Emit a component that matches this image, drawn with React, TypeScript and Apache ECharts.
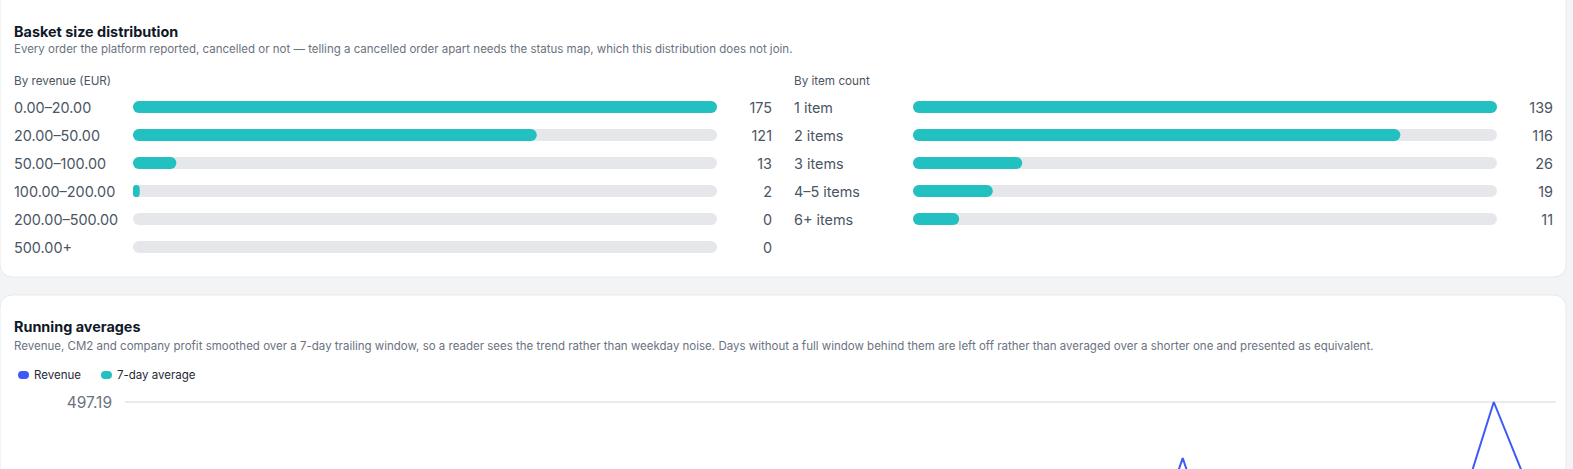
import { useEffect, useRef } from "react";
import * as echarts from "echarts";

const revenueBuckets = ["0.00–20.00", "20.00–50.00", "50.00–100.00", "100.00–200.00", "200.00–500.00", "500.00+"];
const revenueCounts = [175, 121, 13, 2, 0, 0];

const itemBuckets = ["1 item", "2 items", "3 items", "4–5 items", "6+ items"];
const itemCounts = [139, 116, 26, 19, 11];

const days = [
  "03-01", "03-02", "03-03", "03-04", "03-05", "03-06", "03-07", "03-08", "03-09", "03-10",
  "03-11", "03-12", "03-13", "03-14", "03-15", "03-16", "03-17", "03-18", "03-19", "03-20",
  "03-21", "03-22", "03-23", "03-24", "03-25", "03-26", "03-27", "03-28", "03-29", "03-30",
  "03-31", "04-01", "04-02", "04-03", "04-04", "04-05", "04-06", "04-07", "04-08", "04-09",
  "04-10", "04-11", "04-12", "04-13", "04-14", "04-15", "04-16",
];

const revenue = [
  142.5, 88.3, 196.7, 121.4, 64.9, 173.2, 110.8, 205.6, 97.1, 158.3,
  231.9, 76.4, 139.8, 184.2, 118.6, 92.7, 266.3, 147.5, 101.2, 173.9,
  128.4, 214.7, 85.6, 162.1, 243.8, 119.3, 98.5, 187.4, 152.6, 74.2,
  208.9, 136.1, 112.7, 190.6, 381.2, 189.4, 124.3, 168.5, 97.8, 221.6,
  143.2, 175.4, 108.9, 292.0, 497.19, 337.7, 214.3,
];

const avg7 = [
  null, null, null, null, null, null, 128.3, 137.2, 130.0, 138.2,
  150.4, 145.2, 145.6, 158.3, 143.6, 141.9, 149.3, 152.2, 137.9, 140.9,
  145.2, 153.1, 153.2, 147.5, 161.1, 155.4, 149.6, 159.3, 152.0, 148.2,
  153.9, 145.5, 142.0, 151.6, 179.5, 181.8, 187.8, 193.5, 194.7, 210.3,
  189.6, 171.6, 148.5, 173.9, 215.7, 253.8, 266.9,
];

const yTicks = [0, 497.19];

const FONT = "Inter, 'Noto Sans', sans-serif";
const TEAL = "#22c0c0";
const BLUE = "#3d5af8";
const TRACK = "#e5e7eb";
const LABEL = "#4b5563";

// the page continues below the window, so the chart is drawn taller than it and clipped
const CHART_H = 700;

function txt(x: number, y: number, text: string, size: number, color: string, weight: number | string = 400) {
  return {
    type: "text", x, y, z: 100,
    style: { text, fontSize: size, fontFamily: FONT, fontWeight: weight, fill: color, textVerticalAlign: "middle" },
  };
}

export default function App() {
  const ref = useRef<HTMLDivElement>(null);

  useEffect(() => {
    if (!ref.current) return;
    const chart = echarts.init(ref.current, undefined, { renderer: "svg" });

    const catAxis = (grid: number, data: string[], pos: "left" | "right", margin: number, align: string) => ({
      type: "category", gridIndex: grid, data, inverse: true, position: pos,
      axisLine: { show: false }, axisTick: { show: false }, splitLine: { show: false },
      axisLabel: { align, margin, fontSize: 14.4, color: LABEL, fontFamily: FONT },
    });

    const barSeries = (xi: number, yi: number, data: number[]) => ({
      type: "bar", xAxisIndex: xi, yAxisIndex: yi, data, barWidth: 12,
      showBackground: true,
      backgroundStyle: { color: TRACK, borderRadius: 6 },
      itemStyle: { color: TEAL, borderRadius: 6 },
      silent: true,
    });

    chart.setOption({
      animation: false,
      backgroundColor: "#f3f4f6",
      textStyle: { fontFamily: FONT },
      graphic: [
        { type: "rect", z: -100, shape: { x: 0, y: -20, width: 1566, height: 297, r: 12 }, style: { fill: "#fff", stroke: "#e8e9ec", lineWidth: 1 } },
        { type: "rect", z: -100, shape: { x: 0, y: 295, width: 1566, height: 420, r: 12 }, style: { fill: "#fff", stroke: "#e8e9ec", lineWidth: 1 } },
        txt(14, 31, "Basket size distribution", 14.4, "#111827", 700),
        txt(14, 49, "Every order the platform reported, cancelled or not — telling a cancelled order apart needs the status map, which this distribution does not join.", 11.5, "#6b7280"),
        txt(14, 81, "By revenue (EUR)", 11.7, LABEL),
        txt(794, 81, "By item count", 11.7, LABEL),
        txt(14, 326, "Running averages", 14.4, "#111827", 700),
        txt(14, 346, "Revenue, CM2 and company profit smoothed over a 7-day trailing window, so a reader sees the trend rather than weekday noise. Days without a full window behind them are left off rather than averaged over a shorter one and presented as equivalent.", 11.5, "#6b7280"),
      ],
      legend: {
        data: ["Revenue", "7-day average"],
        left: 18, top: 369, padding: 0,
        icon: "path://M4,0 h3 a4,4 0 0 1 0,8 h-3 a4,4 0 0 1 0,-8z",
        itemWidth: 11, itemHeight: 8, itemGap: 20,
        textStyle: { fontSize: 11.5, color: "#1f2937", fontFamily: FONT },
      },
      grid: [
        { left: 133, top: 93, width: 584, height: 168 },
        { left: 913, top: 93, width: 584, height: 140 },
        { left: 125, top: 402, right: 17, bottom: CHART_H - 642 },
      ],
      xAxis: [
        { type: "value", gridIndex: 0, min: 0, max: Math.max(...revenueCounts), show: false },
        { type: "value", gridIndex: 1, min: 0, max: Math.max(...itemCounts), show: false },
        {
          type: "category", gridIndex: 2, data: days, boundaryGap: false,
          axisLine: { show: false }, axisTick: { show: false }, axisLabel: { show: false },
        },
      ],
      yAxis: [
        catAxis(0, revenueBuckets, "left", 119, "left"),
        catAxis(0, revenueCounts.map(String), "right", 55, "right"),
        catAxis(1, itemBuckets, "left", 119, "left"),
        catAxis(1, itemCounts.map(String), "right", 56, "right"),
        {
          type: "value", gridIndex: 2, min: yTicks[0], max: yTicks[1], interval: yTicks[1] - yTicks[0],
          axisLine: { show: false }, axisTick: { show: false },
          splitLine: { lineStyle: { color: "#e4e5e9", width: 1.5 } },
          axisLabel: {
            margin: 13, fontSize: 15.5, color: "#6b7280", fontFamily: FONT, showMinLabel: false,
            formatter: (v: number) => v.toFixed(2),
          },
        },
      ],
      series: [
        barSeries(0, 0, revenueCounts),
        barSeries(1, 2, itemCounts),
        {
          name: "Revenue", type: "line", xAxisIndex: 2, yAxisIndex: 4, data: revenue,
          symbol: "none", color: BLUE, lineStyle: { color: BLUE, width: 2 },
        },
        {
          name: "7-day average", type: "line", xAxisIndex: 2, yAxisIndex: 4, data: avg7,
          symbol: "none", color: TEAL, lineStyle: { color: TEAL, width: 2 },
        },
      ],
    });

    return () => chart.dispose();
  }, []);

  return (
    <div style={{ position: "absolute", left: 0, top: 0, width: 1573, height: 469, overflow: "hidden" }}>
      <div ref={ref} style={{ width: 1573, height: CHART_H }} />
    </div>
  );
}
